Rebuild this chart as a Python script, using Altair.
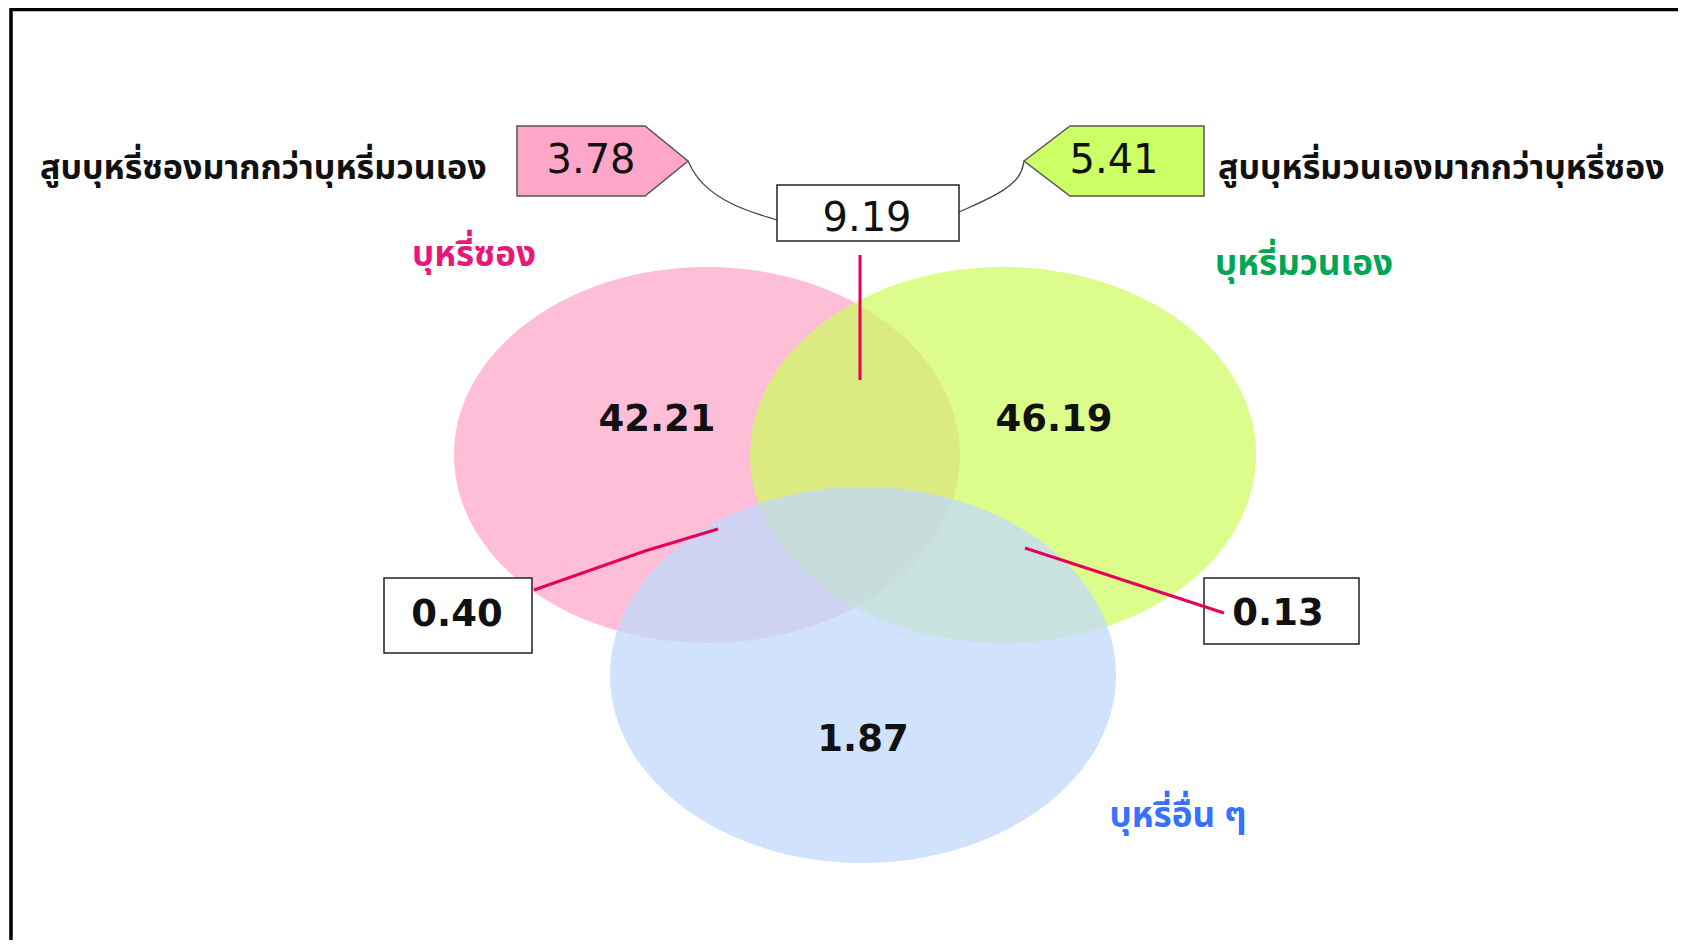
import altair as alt
import pandas as pd

# ---- data ----
set_names = ["บุหรี่ซอง", "บุหรี่มวนเอง", "บุหรี่อื่น ๆ"]
only_values = [42.21, 46.19, 1.87]            # smoke only one type
pair_names = ["ซอง+มวนเอง", "ซอง+อื่น ๆ", "มวนเอง+อื่น ๆ"]
pair_values = [9.19, 0.40, 0.13]
compare_labels = ["สูบบุหรี่ซองมากกว่าบุหรี่มวนเอง", "สูบบุหรี่มวนเองมากกว่าบุหรี่ซอง"]
compare_values = [3.78, 5.41]

# ---- layout (pixel positions on the page) ----
set_cx = [707, 1003, 863]
set_cy = [455, 455, 675]
set_fill = ["#FFBED8", "#CEFC5F", "#C0D8FB"]
set_opacity = [1.0, 0.72, 0.75]
set_label_x = [474, 1304, 1178]
set_label_y = [255, 264, 816]
set_label_color = ["#E6187A", "#00A651", "#3672FF"]
only_x = [657, 1054, 863]
only_y = [420, 420, 740]
pair_box_x = [777, 384, 1204]
pair_box_x2 = [959, 532, 1359]
pair_box_y = [185, 578, 578]
pair_box_y2 = [241, 653, 644]
pair_text_x = [867, 457, 1278]
pair_text_y = [219, 615, 614]

X = alt.Scale(domain=[8, 1678], nice=False, zero=False)
Y = alt.Scale(domain=[8, 940], nice=False, zero=False, reverse=True)


def px(f):
    return alt.X(f, scale=X, axis=None)


def py(f):
    return alt.Y(f, scale=Y, axis=None)


sets = pd.DataFrame({"set": set_names, "cx": set_cx, "cy": set_cy,
                     "lx": set_label_x, "ly": set_label_y,
                     "vx": only_x, "vy": only_y, "value": only_values})

ellipse = ("M -1 0 C -1 -0.4103 -0.5523 -0.743 0 -0.743 "
           "C 0.5523 -0.743 1 -0.4103 1 0 "
           "C 1 0.4103 0.5523 0.743 0 0.743 "
           "C -0.5523 0.743 -1 0.4103 -1 0 Z")


def ellipse_layer(i):
    return alt.Chart(sets.iloc[[i]]).mark_point(
        shape=ellipse, filled=True, size=256036, strokeWidth=0,
        fill=set_fill[i], opacity=set_opacity[i]).encode(x=px("cx:Q"), y=py("cy:Q"))


circles = [ellipse_layer(i) for i in range(3)]

set_labels = alt.Chart(sets).mark_text(font="Tahoma, Noto Sans Thai, sans-serif",
                                       fontWeight="bold", fontSize=35, baseline="middle").encode(
    x=px("lx:Q"), y=py("ly:Q"), text="set:N",
    color=alt.Color("set:N", scale=alt.Scale(domain=set_names, range=set_label_color), legend=None),
)

only_text = alt.Chart(sets).mark_text(font="DejaVu Sans", fontWeight="bold", fontSize=37,
                                      baseline="middle", color="#111").encode(
    x=px("vx:Q"), y=py("vy:Q"), text=alt.Text("value:Q", format=".2f"))

# leader lines (pink)
leaders = pd.DataFrame({
    "pair": ["a", "a", "b", "b", "b", "c", "c"],
    "k": [0, 1, 0, 1, 2, 0, 1],
    "px": [860, 860, 534, 645, 718, 1025, 1224],
    "py": [255, 380, 590, 551, 529, 548, 613],
})
leader_lines = alt.Chart(leaders).mark_line(color="#E6005C", strokeWidth=3).encode(
    x=px("px:Q"), y=py("py:Q"), detail="pair:N", order="k:Q")

pairs = pd.DataFrame({"pair": pair_names, "x": pair_box_x, "x2": pair_box_x2,
                      "y": pair_box_y, "y2": pair_box_y2,
                      "tx": pair_text_x, "ty": pair_text_y, "value": pair_values})
pair_boxes = alt.Chart(pairs).mark_rect(fill="white", stroke="#222", strokeWidth=1.5).encode(
    x=px("x:Q"), x2="x2:Q", y=py("y:Q"), y2="y2:Q")
pair_text = alt.Chart(pairs.iloc[1:]).mark_text(font="DejaVu Sans", fontWeight="bold", fontSize=37,
                                                baseline="middle", color="#111").encode(
    x=px("tx:Q"), y=py("ty:Q"), text=alt.Text("value:Q", format=".2f"))
pair_text_top = alt.Chart(pairs.iloc[[0]]).mark_text(font="DejaVu Sans", fontSize=40,
                                                     baseline="middle", color="#111").encode(
    x=px("tx:Q"), y=py("ty:Q"), text=alt.Text("value:Q", format=".2f"))

# connector curves from tags to the 9.19 box
curves = pd.DataFrame({
    "side": ["l"] * 4 + ["r"] * 4,
    "k": [0, 1, 2, 3, 0, 1, 2, 3],
    "px": [688, 699, 731, 777, 959, 1000, 1021, 1024],
    "py": [161, 183, 206, 220, 212, 194, 177, 161],
})
curve_lines = alt.Chart(curves).mark_line(color="#444", strokeWidth=1.3, interpolate="basis").encode(
    x=px("px:Q"), y=py("py:Q"), detail="side:N", order="k:Q")

# comparison tags
tags = pd.DataFrame({"label": compare_labels, "value": compare_values,
                     "cx": [602.5, 1114], "cy": [161, 161], "ly": [169, 169],
                     "tx": [591, 1114], "lx": [40, 1218]})
tag_left = "M -0.855 -0.35 L 0.425 -0.35 L 0.855 0 L 0.425 0.35 L -0.855 0.35 Z"
tag_right = "M -0.9 0 L -0.44 -0.35 L 0.9 -0.35 L 0.9 0.35 L -0.44 0.35 Z"
tag_l = alt.Chart(tags.iloc[[0]]).mark_point(shape=tag_left, filled=True, size=40000,
                                              fill="#FFA6C9", stroke="#555", strokeWidth=1.5,
                                              opacity=1).encode(x=px("cx:Q"), y=py("cy:Q"))
tag_r = alt.Chart(tags.iloc[[1]]).mark_point(shape=tag_right, filled=True, size=40000,
                                              fill="#CCFF66", stroke="#555", strokeWidth=1.5,
                                              opacity=1).encode(x=px("cx:Q"), y=py("cy:Q"))
tag_text = alt.Chart(tags).mark_text(font="DejaVu Sans", fontSize=40, baseline="middle",
                                     color="#111").encode(
    x=px("tx:Q"), y=py("cy:Q"), text=alt.Text("value:Q", format=".2f"))
tag_label = alt.Chart(tags).mark_text(font="Tahoma, Noto Sans Thai, sans-serif", fontWeight="bold",
                                      fontSize=34, baseline="middle", align="left",
                                      color="#111").encode(
    x=px("lx:Q"), y=py("ly:Q"), text="label:N")

# frame (left and top edges) drawn as a polyline
frame = pd.DataFrame({"k": [0, 1, 2], "fx": [11, 11, 1700], "fy": [960, 9.5, 9.5]})
frame_lines = alt.Chart(frame).mark_line(color="black", strokeWidth=3.5).encode(
    x=px("fx:Q"), y=py("fy:Q"), order="k:Q")

chart = alt.layer(
    frame_lines, *circles, set_labels, only_text, curve_lines,
    pair_boxes, leader_lines, pair_text, pair_text_top, tag_l, tag_r, tag_text, tag_label,
).resolve_scale(x="independent", y="independent", color="independent").properties(
    width=1670, height=932, padding=0,
    autosize=alt.AutoSizeParams(type="none"),
    background="white").configure_view(strokeWidth=0)

chart.save("out.html", embed_options={"renderer": "svg", "actions": False})
